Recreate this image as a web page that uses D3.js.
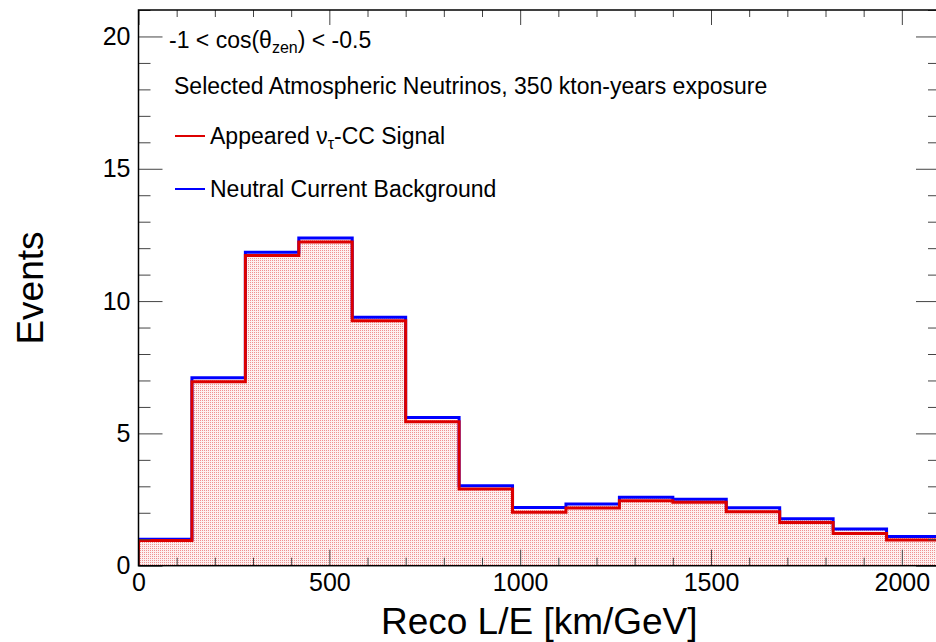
<!DOCTYPE html>
<html>
<head>
<meta charset="utf-8">
<script src="https://cdn.jsdelivr.net/npm/d3@7"></script>
<style>
  html, body { margin: 0; padding: 0; background: #fff; }
  svg { display: block; font-family: "Liberation Sans", Arial, Helvetica, sans-serif; }
</style>
</head>
<body>
<svg id="chart" width="936" height="642"></svg>
<script>
// ---- Data ----
const binEdges = [0, 140, 280, 420, 560, 700, 840, 980, 1120, 1260, 1400, 1540, 1680, 1820, 1960, 2100];
const signalCounts = [0.95, 6.95, 11.72, 12.23, 9.26, 5.44, 2.90, 2.02, 2.18, 2.45, 2.40, 2.04, 1.63, 1.22, 0.97];
const stackedTotal = [1.00, 7.10, 11.85, 12.38, 9.39, 5.60, 3.02, 2.20, 2.33, 2.59, 2.51, 2.19, 1.77, 1.39, 1.10];
const xMajorTicks = [0, 500, 1000, 1500, 2000];
const xMinorTicks = [100, 200, 300, 400, 600, 700, 800, 900, 1100, 1200, 1300, 1400, 1600, 1700, 1800, 1900, 2100];
const yMajorTicks = [0, 5, 10, 15, 20];
const yMinorTicks = [1, 2, 3, 4, 6, 7, 8, 9, 11, 12, 13, 14, 16, 17, 18, 19, 21];
const xDomain = [0, 2100];
const yDomain = [0, 21];
const legendItems = [
  { key: "signal", color: "#dd0000" },
  { key: "nc", color: "#0000ff" }
];

(function () {
// ---- Layout ----
const svg = d3.select("#chart");
const pL = 138.5, pR = 940, pT = 10, pB = 565.7;
const x = d3.scaleLinear().domain(xDomain).range([pL, pR]);
const y = d3.scaleLinear().domain(yDomain).range([pB, pT]);

// fill pattern (stippled red)
const defs = svg.append("defs");
const pat = defs.append("pattern").attr("id", "dots")
  .attr("width", 2).attr("height", 2).attr("patternUnits", "userSpaceOnUse");
pat.append("rect").attr("width", 2).attr("height", 2).attr("fill", "#fdf0f0");
pat.append("rect").attr("width", 1).attr("height", 1).attr("fill", "#f09090");

defs.append("clipPath").attr("id", "plotclip")
  .append("rect").attr("x", pL).attr("y", pT).attr("width", pR - pL).attr("height", pB - pT);

function stepPath(vals) {
  let p = `M${x(binEdges[0])},${y(0)}`;
  vals.forEach((v, i) => {
    p += `L${x(binEdges[i])},${y(v)}L${x(binEdges[i + 1])},${y(v)}`;
  });
  p += `L${x(binEdges[binEdges.length - 1])},${y(0)}`;
  return p;
}

const plot = svg.append("g").attr("clip-path", "url(#plotclip)");
plot.append("path").attr("d", stepPath(stackedTotal) + "Z").attr("fill", "url(#dots)").attr("stroke", "none");
plot.append("path").attr("d", stepPath(stackedTotal)).attr("fill", "none")
  .attr("stroke", legendItems[1].color).attr("stroke-width", 3);
plot.append("path").attr("d", stepPath(signalCounts)).attr("fill", "none")
  .attr("stroke", legendItems[0].color).attr("stroke-width", 3);

// ---- Axes ----
function styleAxis(g) {
  g.select(".domain").remove();
  g.selectAll(".tick line").attr("stroke", "#444").attr("stroke-width", 1);
  g.selectAll("text").attr("fill", "#000").style("font-size", "25px")
    .style("font-family", "'Liberation Sans', Arial, Helvetica, sans-serif");
}

// bottom
svg.append("g").attr("transform", `translate(0,${pB})`)
  .call(d3.axisBottom(x).tickValues(xMajorTicks).tickSize(-16).tickPadding(8).tickFormat(d3.format("d")))
  .call(styleAxis);
svg.append("g").attr("transform", `translate(0,${pB})`)
  .call(d3.axisBottom(x).tickValues(xMinorTicks).tickSize(-8).tickFormat(""))
  .call(styleAxis);
// top
svg.append("g").attr("transform", `translate(0,${pT})`)
  .call(d3.axisTop(x).tickValues(xMajorTicks).tickSize(-15).tickFormat(""))
  .call(styleAxis);
svg.append("g").attr("transform", `translate(0,${pT})`)
  .call(d3.axisTop(x).tickValues(xMinorTicks).tickSize(-7).tickFormat(""))
  .call(styleAxis);
// left
svg.append("g").attr("transform", `translate(${pL},0)`)
  .call(d3.axisLeft(y).tickValues(yMajorTicks).tickSize(-24).tickPadding(8).tickFormat(d3.format("d")))
  .call(styleAxis);
svg.append("g").attr("transform", `translate(${pL},0)`)
  .call(d3.axisLeft(y).tickValues(yMinorTicks).tickSize(-12).tickFormat(""))
  .call(styleAxis);
// right
svg.append("g").attr("transform", `translate(${pR},0)`)
  .call(d3.axisRight(y).tickValues(yMajorTicks).tickSize(-24).tickFormat(""))
  .call(styleAxis);
svg.append("g").attr("transform", `translate(${pR},0)`)
  .call(d3.axisRight(y).tickValues(yMinorTicks).tickSize(-12).tickFormat(""))
  .call(styleAxis);

// frame
svg.append("rect").attr("x", pL).attr("y", pT).attr("width", pR - pL).attr("height", pB - pT)
  .attr("fill", "none").attr("stroke", "#000").attr("stroke-width", 1.5);

// ---- Titles ----
svg.append("text").attr("x", (pL + pR) / 2).attr("y", 634)
  .attr("text-anchor", "middle").style("font-size", "37px").attr("fill", "#000")
  .text("Reco L/E [km/GeV]");
svg.append("text").attr("transform", `translate(43,288) rotate(-90)`)
  .attr("text-anchor", "middle").style("font-size", "37px").attr("fill", "#000")
  .text("Events");

// ---- Annotations ----
const t1 = svg.append("text").attr("x", 169).attr("y", 48).style("font-size", "23px").attr("fill", "#000");
t1.append("tspan").text("-1 < cos(θ");
t1.append("tspan").attr("dy", 5).style("font-size", "16px").text("zen");
t1.append("tspan").attr("dy", -5).text(") < -0.5");

svg.append("text").attr("x", 174).attr("y", 94).style("font-size", "23px").attr("fill", "#000")
  .text("Selected Atmospheric Neutrinos, 350 kton-years exposure");

// legend
const legY = [136, 189];
svg.append("line").attr("x1", 175).attr("x2", 205).attr("y1", legY[0]).attr("y2", legY[0])
  .attr("stroke", legendItems[0].color).attr("stroke-width", 2);
const l1 = svg.append("text").attr("x", 210).attr("y", legY[0] + 8).style("font-size", "23px").attr("fill", "#000");
l1.append("tspan").text("Appeared ν");
l1.append("tspan").attr("dy", 5).style("font-size", "16px").text("τ");
l1.append("tspan").attr("dy", -5).text("-CC Signal");

svg.append("line").attr("x1", 175).attr("x2", 205).attr("y1", legY[1]).attr("y2", legY[1])
  .attr("stroke", legendItems[1].color).attr("stroke-width", 2);
svg.append("text").attr("x", 210).attr("y", legY[1] + 8).style("font-size", "23px").attr("fill", "#000")
  .text("Neutral Current Background");
})();
</script>
</body>
</html>
